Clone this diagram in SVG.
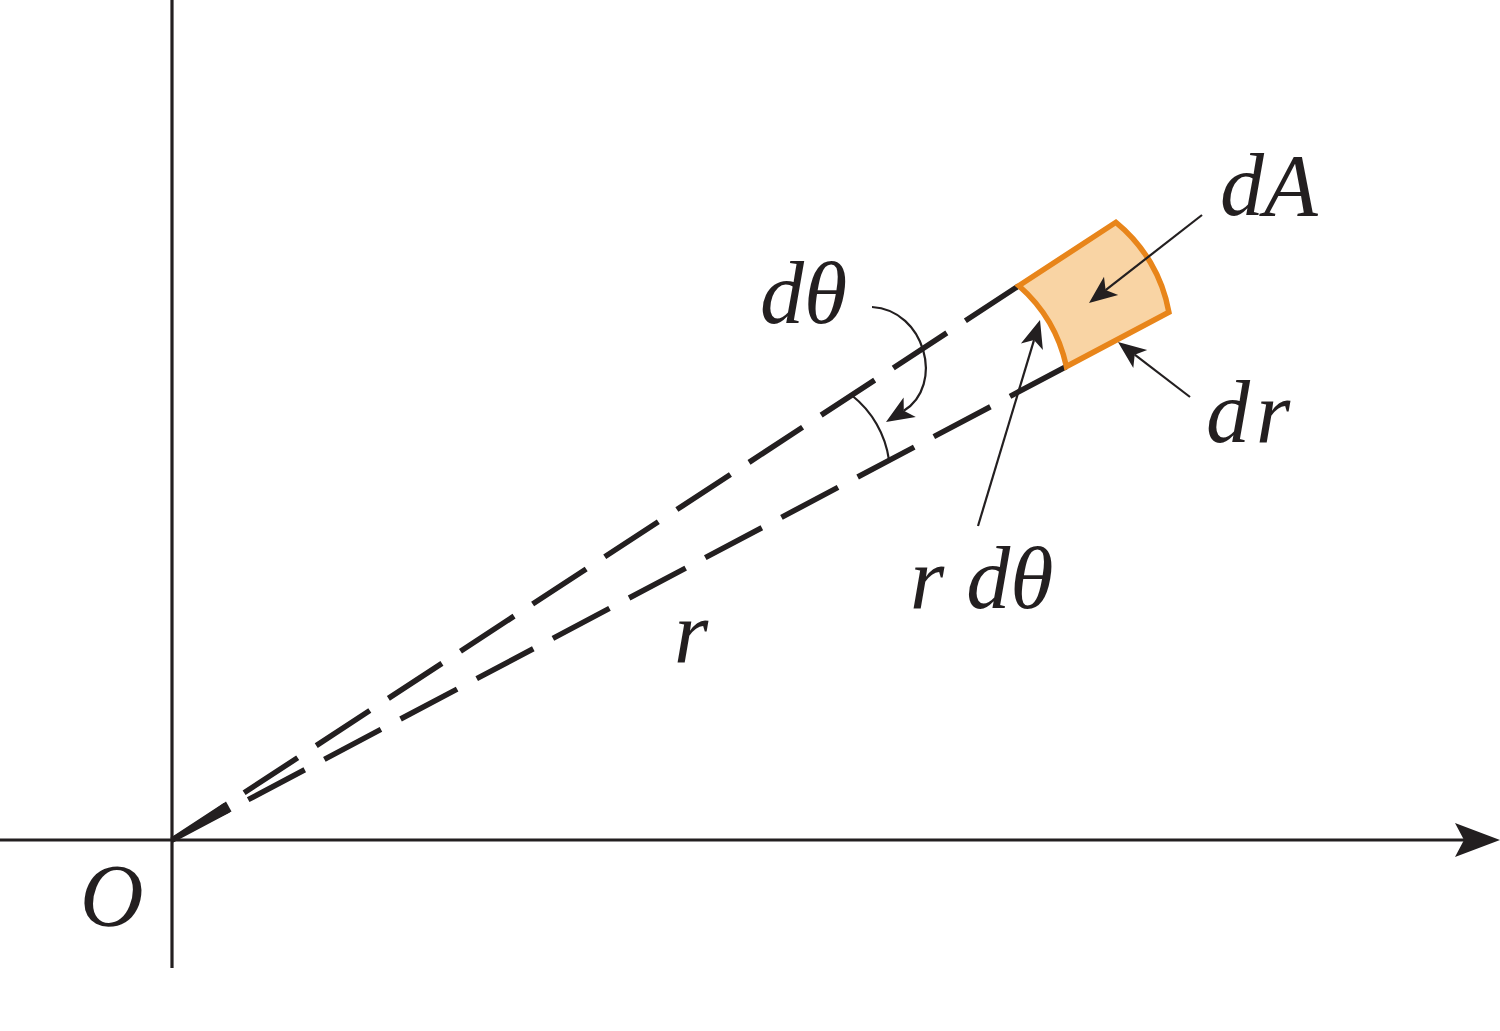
<svg xmlns="http://www.w3.org/2000/svg" width="1500" height="1031" viewBox="0 0 1500 1031">
<rect width="1500" height="1031" fill="#fff"/>
<g id="axes" stroke="#231f20" stroke-width="3.2" fill="none">
<line x1="172" y1="0" x2="172" y2="968"/>
<line x1="0" y1="840" x2="1466" y2="840"/>
<path d="M1500,840 L1455,823 L1464,840 L1455,857 Z" fill="#231f20" stroke="none"/>
</g>
<g id="rays" stroke="#231f20" stroke-width="5.5" fill="none" stroke-dasharray="64 22.2">
<line x1="172" y1="840" x2="1018.8" y2="285.8"/>
<line x1="172" y1="840" x2="1066.4" y2="366.5"/>
<polygon points="172,840 226,801.5 231.5,811.5" fill="#231f20" stroke="none"/>
</g>
<g id="element-dA">
<path d="M1018.8,285.8 L1115.9,222.3 A150,150 0 0 1 1168.9,312.2 L1066.4,366.5 A150,150 0 0 0 1018.8,285.8 Z" fill="#f9d4a4" stroke="#e8851a" stroke-width="5.5" stroke-linejoin="miter"/>
</g>
<g id="angle-arc" stroke="#231f20" stroke-width="2.2" fill="none">
<path d="M852,395.5 A100,100 0 0 1 889,460"/>
</g>
<g id="connectors" stroke="#231f20" stroke-width="2.2" fill="none">
<path d="M872,307 C925,310 945,385 903.8,410.8"/>
<polygon points="886,422 903.6,397.4 903.8,410.8 915.8,416.9" fill="#231f20" stroke="none"/>
<line x1="978" y1="526" x2="1034" y2="340.1"/>
<polygon points="1040,320 1042.9,350.1 1034,340.1 1020.9,343.5" fill="#231f20" stroke="none"/>
<line x1="1202" y1="215" x2="1105.6" y2="290.1"/>
<polygon points="1089,303 1104,276.7 1105.6,290.1 1118.2,294.9" fill="#231f20" stroke="none"/>
<line x1="1190" y1="397" x2="1134.7" y2="354.7"/>
<polygon points="1118,342 1147.2,349.9 1134.7,354.7 1133.3,368.1" fill="#231f20" stroke="none"/>
</g>
<g id="labels" fill="#231f20">
<text x="1220" y="215" font-family="Times New Roman, Liberation Serif, serif" font-style="italic" font-size="88">dA</text>
<text x="760" y="323" font-family="Times New Roman, Liberation Serif, serif" font-style="italic" font-size="88">dθ</text>
<text x="1206" y="442" font-family="Times New Roman, Liberation Serif, serif" font-style="italic" font-size="88">d<tspan dx="6">r</tspan></text>
<text x="910" y="608" font-family="Times New Roman, Liberation Serif, serif" font-style="italic" font-size="88">r dθ</text>
<text x="674" y="662" font-family="Times New Roman, Liberation Serif, serif" font-style="italic" font-size="88">r</text>
<text x="80" y="925" font-family="Times New Roman, Liberation Serif, serif" font-style="italic" font-size="88">O</text>
</g>
</svg>
